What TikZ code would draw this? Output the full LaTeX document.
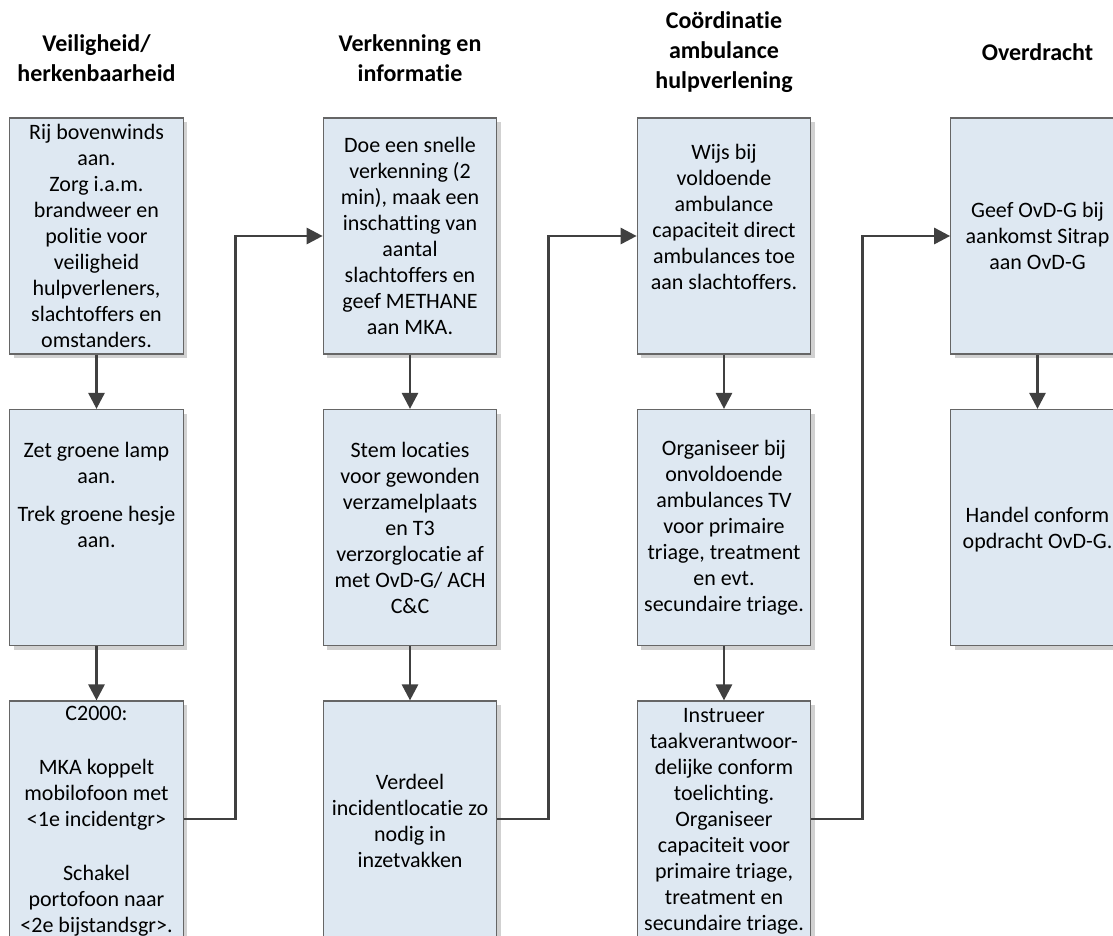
\documentclass[tikz,border=0pt]{standalone}
\usepackage{fontspec}
\setmainfont{Carlito}[Ligatures=NoCommon,RawFeature={-liga;-dlig}]
\usetikzlibrary{arrows.meta,shadows}
\definecolor{boxfill}{HTML}{DEE8F2}
\definecolor{boxline}{HTML}{666666}
\definecolor{connc}{HTML}{404040}
\newcommand\bxfont{\fontsize{22}{26}\selectfont}
\newcommand\hdfont{\fontsize{24}{30}\selectfont\bfseries}
\begin{document}
\begin{tikzpicture}[x=1pt,y=-1pt,
  box/.style={draw=boxline, fill=boxfill, line width=1.2pt, minimum width=173.5pt,
    minimum height=236pt, inner sep=0pt, align=center, font=\bxfont,
    general shadow={fill=black!18, shadow xshift=4pt, shadow yshift=-4pt}},
  txt/.style={align=center, inner sep=0pt, font=\bxfont},
  head/.style={align=center, inner sep=0pt, font=\hdfont},
  conn/.style={draw=connc, line width=2.8pt, -{Triangle[length=16pt,width=16pt]}}]
\useasboundingbox (0,0) rectangle (1113,935);
\clip (0,0) rectangle (1113,935);
% headings
\node[head] (h1) at (96.5,58) {Veiligheid/\\herkenbaarheid};
\node[head] (h2) at (410,58) {Verkenning en\\informatie};
\node[head] (h3) at (724,52) {Coördinatie\\ambulance\\hulpverlening};
\node[head] (h4) at (1037.5,52) {Overdracht};
% column 1
\node[box] (a1) at (96.5,236) {Rij bovenwinds\\aan.\\Zorg i.a.m.\\brandweer en\\politie voor\\veiligheid\\hulpverleners,\\slachtoffers en\\omstanders.};
\node[box] (a2) at (96.5,527.5) {};
\node[txt] (ta2) at (96.5,495) {Zet groene lamp\\aan.\\[12pt]Trek groene hesje\\aan.};
\node[box] (a3) at (96.5,819) {};
\node[txt] (ta3) at (96.5,821) {C2000:\\[28pt]MKA koppelt\\mobilofoon met\\<1e incidentgr>\\[28pt]Schakel\\portofoon naar\\<2e bijstandsgr>.};
% column 2
\node[box] (b1) at (410,236) {Doe een snelle\\verkenning (2\\min), maak een\\inschatting van\\aantal\\slachtoffers en\\geef METHANE\\aan MKA.};
\node[box] (b2) at (410,527.5) {Stem locaties\\voor gewonden\\verzamelplaats\\en T3\\verzorglocatie af\\met OvD-G/ ACH\\C\&C};
\node[box] (b3) at (410,819) {};
\node[txt] (tb3) at (410,821) {Verdeel\\incidentlocatie zo\\nodig in\\inzetvakken};
% column 3
\node[box] (c1) at (724,236) {};
\node[txt] (tc1) at (724,217) {Wijs bij\\voldoende\\ambulance\\capaciteit direct\\ambulances toe\\aan slachtoffers.};
\node[box] (c2) at (724,527.5) {Organiseer bij\\onvoldoende\\ambulances TV\\voor primaire\\triage, treatment\\en evt.\\secundaire triage.};
\node[box] (c3) at (724,819) {};
\node[txt] (tc3) at (724,821) {Instrueer\\taakverantwoor-\\delijke conform\\toelichting.\\Organiseer\\capaciteit voor\\primaire triage,\\treatment en\\secundaire triage.};
% column 4
\node[box] (d1) at (1037.5,236) {Geef OvD-G bij\\aankomst Sitrap\\aan OvD-G};
\node[box] (d2) at (1037.5,527.5) {};
\node[txt] (td2) at (1037.5,530) {Handel conform\\opdracht OvD-G.};
% connectors
\draw[conn] (a1) -- (a2);
\draw[conn] (a2) -- (a3);
\draw[conn] (b1) -- (b2);
\draw[conn] (b2) -- (b3);
\draw[conn] (c1) -- (c2);
\draw[conn] (c2) -- (c3);
\draw[conn] (d1) -- (d2);
\draw[conn] (a3.east) -- ++(52,0) |- (b1.west);
\draw[conn] (b3.east) -- ++(51,0) |- (c1.west);
\draw[conn] (c3.east) -- ++(51,0) |- (d1.west);
\end{tikzpicture}
\end{document}
